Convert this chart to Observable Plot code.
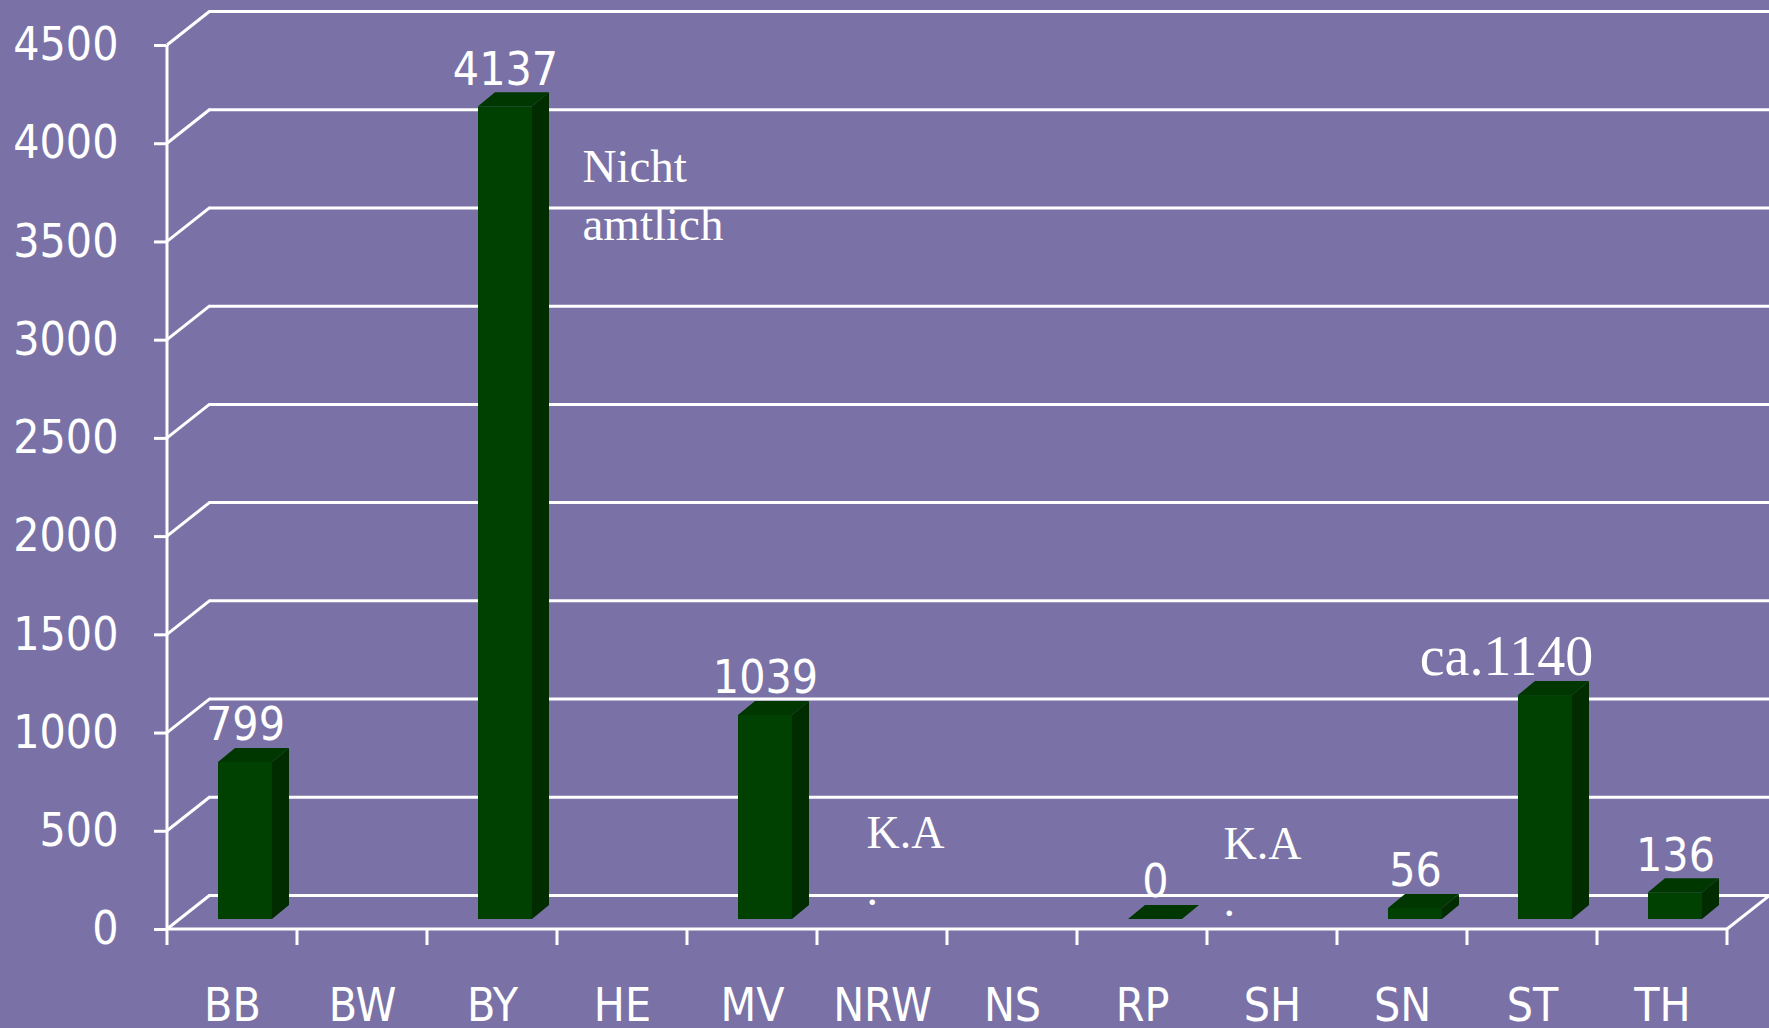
<!DOCTYPE html>
<html>
<head>
<meta charset="utf-8">
<script src="https://cdn.jsdelivr.net/npm/d3@7"></script>
<script src="https://cdn.jsdelivr.net/npm/@observablehq/plot@0.6"></script>
<style>
  html, body { margin: 0; padding: 0; background: #7a72a6; }
  #chart svg { display: block; }
</style>
</head>
<body>
<div id="chart"></div>
<script>
const categories = ["BB", "BW", "BY", "HE", "MV", "NRW", "NS", "RP", "SH", "SN", "ST", "TH"];
const values = [799, null, 4137, null, 1039, null, null, 0, null, 56, 1140, 136];
const valueLabels = ["799", "", "4137", "", "1039", "", "", "0", "", "56", "ca.1140", "136"];
const yTicks = [0, 500, 1000, 1500, 2000, 2500, 3000, 3500, 4000, 4500];
const noteCats = ["BY", "NRW", "SH"];
const noteTexts = ["Nicht\namtlich", "K.A\n.", "K.A\n."];
const noteY = [4000, 500, 500];

const bars = categories.map((c, i) => ({cat: c, value: values[i], label: valueLabels[i]}))
  .filter(d => d.value !== null);
const notes = noteCats.map((c, i) => ({cat: c, text: noteTexts[i], y: noteY[i]}));

const BG = "#7a72a6";
const DEPTH_X = 43, DEPTH_Y = -34;   // back wall offset
const BAR_X = 13, BAR_Y = -10;       // bar position in depth
const SIDE_X = 17, SIDE_Y = -14;     // bar depth
const BAR_W = 54;
const SANS = "'DejaVu Sans Condensed', 'DejaVu Sans', sans-serif";
const SERIF = "'Liberation Serif', 'DejaVu Serif', serif";

function frame3d(index, {x, y}) {
  const g = d3.create("svg:g").attr("stroke", "white").attr("stroke-width", 3).attr("fill", "none");
  const x0 = x(categories[0]);
  const bw = x.bandwidth();
  const x1 = x(categories[categories.length - 1]) + bw;
  // side-wall diagonals
  for (const t of yTicks) {
    g.append("line").attr("x1", x0).attr("y1", y(t)).attr("x2", x0 + DEPTH_X).attr("y2", y(t) + DEPTH_Y);
  }
  // front vertical axis
  g.append("line").attr("x1", x0).attr("x2", x0).attr("y1", y(0)).attr("y2", y(yTicks[yTicks.length - 1]));
  // front floor edge
  g.append("line").attr("x1", x0).attr("x2", x1).attr("y1", y(0)).attr("y2", y(0));
  g.append("line").attr("x1", x1).attr("y1", y(0)).attr("x2", x1 + DEPTH_X).attr("y2", y(0) + DEPTH_Y);
  // category ticks at band edges
  for (let i = 0; i <= categories.length; i++) {
    const xx = i < categories.length ? x(categories[i]) : x1;
    g.append("line").attr("x1", xx).attr("x2", xx).attr("y1", y(0)).attr("y2", y(0) + 16);
  }
  return g.node();
}

function bars3d(index, {x, y}) {
  const g = d3.create("svg:g");
  const bw = x.bandwidth();
  for (const d of bars) {
    const fx0 = x(d.cat) + (bw - BAR_W) / 2 + BAR_X;
    const fx1 = fx0 + BAR_W;
    const yb = y(0) + BAR_Y;
    const yt = y(d.value) + BAR_Y;
    // side
    g.append("path").attr("fill", "#002c00")
      .attr("d", `M${fx1},${yt}L${fx1 + SIDE_X},${yt + SIDE_Y}L${fx1 + SIDE_X},${yb + SIDE_Y}L${fx1},${yb}Z`);
    // top
    g.append("path").attr("fill", "#003600")
      .attr("d", `M${fx0},${yt}L${fx0 + SIDE_X},${yt + SIDE_Y}L${fx1 + SIDE_X},${yt + SIDE_Y}L${fx1},${yt}Z`);
    // front
    g.append("rect").attr("fill", "#004000")
      .attr("x", fx0).attr("y", yt).attr("width", BAR_W).attr("height", Math.max(0, yb - yt));
  }
  return g.node();
}

const chart = Plot.plot({
  width: 1769,
  height: 1028,
  marginLeft: 166,
  marginRight: 41,
  marginTop: 45,
  marginBottom: 99,
  style: {background: BG, color: "white", fontFamily: SANS, overflow: "visible"},
  x: {type: "band", domain: categories, padding: 0},
  y: {domain: [0, 4500]},
  marks: [
    Plot.ruleY(yTicks, {dx: DEPTH_X, dy: DEPTH_Y, stroke: "white", strokeWidth: 3}),
    frame3d,
    Plot.axisY(yTicks, {tickSize: 12, tickPadding: 36, fontSize: 46, strokeWidth: 3, color: "white",
      fontFamily: SANS, label: null, tickFormat: d => String(d)}),
    Plot.axisX({tickSize: 0, tickPadding: 59, fontSize: 46, color: "white", fontFamily: SANS, label: null}),
    bars3d,
    Plot.text(bars.filter(d => !d.label.startsWith("ca")), {
      x: "cat", y: "value", text: "label", dx: BAR_X, dy: -47,
      fill: "white", fontSize: 46, fontFamily: SANS, lineAnchor: "middle"
    }),
    Plot.text(bars.filter(d => d.label.startsWith("ca")), {
      x: "cat", y: "value", text: "label", dx: -26, dy: -48,
      fill: "white", fontSize: 56, fontFamily: SERIF, lineAnchor: "middle"
    }),
    Plot.text(notes.filter(d => d.cat === "BY"), {
      x: "cat", y: "y", text: "text", dx: 90, dy: -2, textAnchor: "start", lineAnchor: "top",
      fill: "white", fontSize: 47, fontFamily: SERIF, lineHeight: 1.22
    }),
    Plot.text(notes.filter(d => d.cat === "NRW"), {
      x: "cat", y: "y", text: "text", dx: -16, dy: -24, textAnchor: "start", lineAnchor: "top",
      fill: "white", fontSize: 46, fontFamily: SERIF, lineHeight: 1.24
    }),
    Plot.text(notes.filter(d => d.cat === "SH"), {
      x: "cat", y: "y", text: "text", dx: -49, dy: -13, textAnchor: "start", lineAnchor: "top",
      fill: "white", fontSize: 46, fontFamily: SERIF, lineHeight: 1.24
    })
  ]
});
document.getElementById("chart").append(chart);
</script>
</body>
</html>
